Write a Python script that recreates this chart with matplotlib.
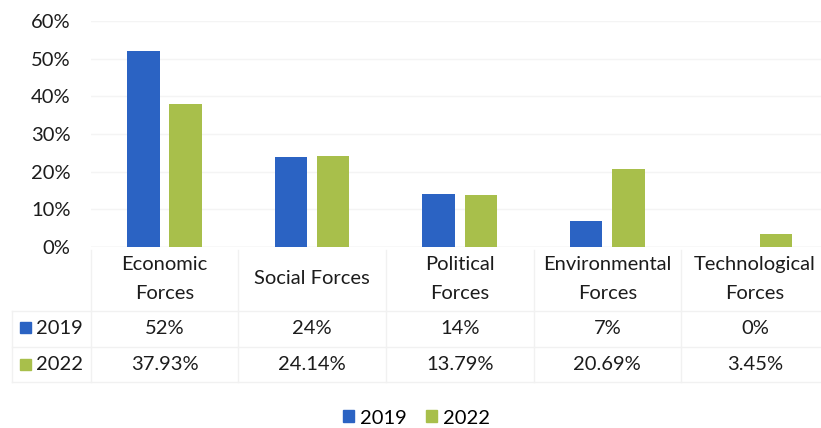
import numpy as np
import matplotlib.pyplot as plt
import matplotlib.transforms as mtransforms
from matplotlib.patches import Rectangle

plt.rcParams['font.family'] = ['Lato', 'DejaVu Sans']

# dados
categorias = ['Economic\nForces', 'Social Forces', 'Political\nForces',
              'Environmental\nForces', 'Technological\nForces']
anos = ['2019', '2022']
v2019 = [52, 24, 14, 7, 0]
v2022 = [37.93, 24.14, 13.79, 20.69, 3.45]
cores = ['#2b63c3', '#a8bf4b']

W, H = 821, 428
fig = plt.figure(figsize=(W / 100, H / 100), dpi=100)

# area do grafico em pixels
x0 = 90.7      # borda esquerda das colunas da tabela
passo = 147.6  # largura de cada categoria
y0, y1 = 247, 21
ax = fig.add_axes([x0 / W, (H - y0) / H, (W - x0) / W, (y0 - y1) / H])

x = np.arange(len(categorias))
larg = 0.22
ax.bar(x - 0.143, np.array(v2019) / 100, width=larg, color=cores[0], zorder=3)
ax.bar(x + 0.143, np.array(v2022) / 100, width=larg, color=cores[1], zorder=3)

fs = 14.5
cor_txt = '#1c1c1c'

ax.set_xlim(-0.5, -0.5 + (W - x0) / passo)
ax.set_ylim(0, 0.6)
ticks = np.arange(0, 0.61, 0.1)
ax.set_yticks(ticks)
ax.set_yticklabels([f'{int(round(t * 100))}%' for t in ticks],
                   fontsize=fs, color=cor_txt)
ax.tick_params(axis='y', length=0, pad=14.5)
ax.tick_params(axis='x', length=0, labelbottom=False)
ax.grid(axis='y', color='#f4f4f4', linewidth=1, zorder=0)
for s in ax.spines.values():
    s.set_visible(False)
ax.axhline(0, color='#ececec', linewidth=1, zorder=2)


def fy(py):
    return (H - py) / H


# tabela de dados abaixo do grafico (x em dados, y na figura)
tr = mtransforms.blended_transform_factory(ax.transData, fig.transFigure)
linha_cor = '#f1f1f1'

for i, c in enumerate(categorias):
    ax.text(i, fy(279), c, transform=tr, ha='center', va='center',
            fontsize=fs, color=cor_txt, linespacing=1.8, clip_on=False)
    ax.text(i, fy(328), f'{v2019[i]:g}%', transform=tr, ha='center', va='center',
            fontsize=fs, color=cor_txt, clip_on=False)
    ax.text(i, fy(365), f'{v2022[i]:g}%', transform=tr, ha='center', va='center',
            fontsize=fs, color=cor_txt, clip_on=False)

# linhas da tabela
for i in range(len(categorias) + 1):
    xp = x0 + i * passo
    fig.add_artist(plt.Line2D([xp / W, xp / W], [fy(250), fy(382)],
                              color=linha_cor, linewidth=1))
for yp in [311, 347, 382]:
    fig.add_artist(plt.Line2D([12 / W, 1], [fy(yp), fy(yp)],
                              color=linha_cor, linewidth=1))
fig.add_artist(plt.Line2D([12 / W, 12 / W], [fy(311), fy(382)],
                          color=linha_cor, linewidth=1))

# rotulos das linhas com a chave de cor
for j, (ano, yp) in enumerate(zip(anos, [328, 365])):
    fig.add_artist(Rectangle((20 / W, fy(yp + 5)), 11 / W, 11 / H,
                             color=cores[j], transform=fig.transFigure))
    fig.text(36 / W, fy(yp), ano, ha='left', va='center', fontsize=fs,
             color=cor_txt)

# legenda
handles = [Rectangle((0, 0), 1, 1, color=c) for c in cores]
fig.legend(handles, anos, loc='center', bbox_to_anchor=(416.5 / W, fy(418)),
           ncol=2, frameon=False, fontsize=fs, handlelength=0.55,
           handleheight=0.55, handletextpad=0.3, columnspacing=0.95)

fig.savefig('out.png', dpi=100, facecolor='white')
